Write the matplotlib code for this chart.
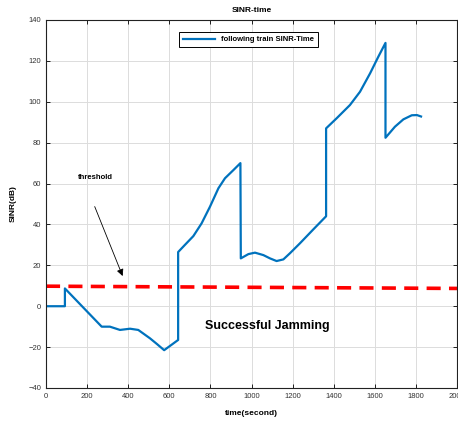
import numpy as np
import matplotlib
matplotlib.use("Agg")
import matplotlib.pyplot as plt

plt.rcParams['font.family'] = ['Liberation Sans', 'DejaVu Sans']

# blue SINR curve (time in s, SINR in dB)
t = [0, 92, 92, 180, 271, 311, 360, 409, 449, 506, 540, 575,
     643, 643, 676, 717, 757, 798, 839, 871, 912, 946,
     948, 985, 1017, 1058, 1090, 1122, 1155, 1187, 1236, 1300, 1363,
     1363, 1414, 1479, 1528, 1577, 1617, 1652,
     1652, 1698, 1739, 1780, 1805, 1825]
sinr = [0, 0, 8.7, -0.5, -10, -10, -11.6, -11, -11.6, -15.7, -18.5, -21.5,
        -16.5, 26.5, 30, 34.3, 40.5, 48.7, 57.7, 62.6, 66.6, 70,
        23.4, 25.5, 26.2, 25, 23.4, 22.1, 22.9, 25.9, 30.8, 37.5, 44,
        87, 91.9, 98.4, 104.9, 113.9, 122, 128.8,
        82.4, 87.8, 91.4, 93.4, 93.5, 92.8]

# threshold line
thr_t = [0, 2000]
thr_v = [9.8, 8.7]

fig = plt.figure(figsize=(4.58, 4.21), dpi=100)
ax = fig.add_axes([46 / 458, 1 - 388 / 421, 411 / 458, 368 / 421])

ax.plot(t, sinr, color='#0072BD', lw=1.6, label='following train SINR-Time')
ax.plot(thr_t, thr_v, color='red', lw=2.6, ls=(0, (3.9, 2.3)))

ax.set_xlim(0, 2000)
ax.set_ylim(-40, 140)
ax.set_xticks(np.arange(0, 2001, 200))
ax.set_yticks(np.arange(-40, 141, 20))
ax.grid(True, color='#dcdcdc', lw=0.7)
ax.tick_params(direction='in', length=3, labelsize=5.5, labelcolor='#333333',
               top=True, right=True, width=0.6)
for s in ax.spines.values():
    s.set_linewidth(0.8)
    s.set_color('#222222')

ax.set_title('SINR-time', fontsize=6, fontweight='bold', pad=6)
ax.set_xlabel('time(second)', fontsize=6, fontweight='bold', labelpad=7)
ax.set_ylabel('SINR(dB)', fontsize=6, fontweight='bold', labelpad=8)

ax.text(156, 62, 'threshold', fontsize=5.5, fontweight='bold')
ax.annotate('', xy=(378, 13.5), xytext=(232, 50),
            arrowprops=dict(arrowstyle='-|>', color='black', lw=0.6,
                            mutation_scale=10))
ax.text(1078, -9.5, 'Successful Jamming', fontsize=9, fontweight='bold',
        ha='center', va='center')

leg = ax.legend(loc='upper center', bbox_to_anchor=(0.493, 0.977),
                prop={'size': 5.5, 'weight': 'bold'}, fancybox=False,
                framealpha=1, edgecolor='black', handlelength=4.2,
                borderpad=0.5)
leg.get_frame().set_linewidth(0.7)

fig.savefig('out.png', dpi=100)
